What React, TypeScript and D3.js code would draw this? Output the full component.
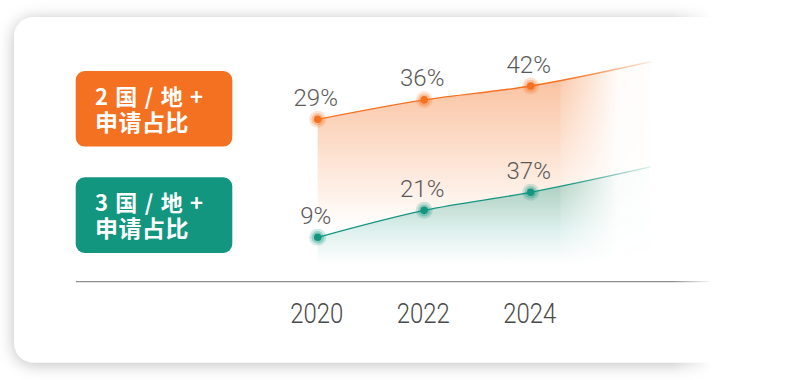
import React from 'react';
import * as d3 from 'd3';

// ---- data ----
const years = [2020, 2022, 2024];
const yearLabels = ['2020', '2022', '2024'];
const trendYear = 2026.25;
const twoCountryShare = [29, 36, 42];
const threeCountryShare = [9, 21, 37];
const twoCountryTrend = 55;
const threeCountryTrend = 82;
const seriesTitles = ['2 国 / 地 +', '3 国 / 地 +'];
const seriesSubtitle = '申请占比';
const seriesColors = ['#f47121', '#129680'];

const W = 794;
const H = 380;

type Series = {
  key: string;
  title: string;
  values: number[];
  trend: number;
  color: string;
  yRange: [number, number];
  areaTop: number;
  areaBottom: number;
  topOpacity: number;
  boxY: number;
};

const series: Series[] = [
  {
    key: 'two',
    title: seriesTitles[0],
    values: twoCountryShare,
    trend: twoCountryTrend,
    color: seriesColors[0],
    yRange: [119.3, 86],
    areaTop: 70,
    areaBottom: 228,
    topOpacity: 0.45,
    boxY: 71,
  },
  {
    key: 'three',
    title: seriesTitles[1],
    values: threeCountryShare,
    trend: threeCountryTrend,
    color: seriesColors[1],
    yRange: [237.3, 192.3],
    areaTop: 175,
    areaBottom: 264,
    topOpacity: 0.38,
    boxY: 177.3,
  },
];

export default function App() {
  const x = d3.scaleLinear().domain([2020, 2024]).range([317.7, 530.7]);
  const axisY = 281.7;

  return (
    <svg
      width={W}
      height={H}
      style={{ position: 'absolute', left: 0, top: 0, background: '#ffffff' }}
    >
      <defs>
        <filter id="cardShadow" x="-10%" y="-20%" width="120%" height="140%">
          <feDropShadow dx="0" dy="2" stdDeviation="8" floodColor="#000" floodOpacity="0.26" />
        </filter>
        <linearGradient id="rightFade" gradientUnits="userSpaceOnUse" x1="672" x2="712" y1="0" y2="0">
          <stop offset="0" stopColor="#fff" stopOpacity="0" />
          <stop offset="1" stopColor="#fff" stopOpacity="1" />
        </linearGradient>
        <linearGradient id="hMaskGrad" gradientUnits="userSpaceOnUse" x1="300" x2="660" y1="0" y2="0">
          <stop offset={(560 - 300) / 360} stopColor="#fff" stopOpacity="1" />
          <stop offset={(561 - 300) / 360} stopColor="#fff" stopOpacity="0.85" />
          <stop offset={(618 - 300) / 360} stopColor="#fff" stopOpacity="0.06" />
          <stop offset="1" stopColor="#fff" stopOpacity="0.02" />
        </linearGradient>
        <mask id="hMask" maskUnits="userSpaceOnUse" x="0" y="0" width={W} height={H}>
          <rect x="0" y="0" width={W} height={H} fill="url(#hMaskGrad)" />
        </mask>
        {series.map((s) => (
          <React.Fragment key={s.key}>
            <linearGradient
              id={`area-${s.key}`}
              gradientUnits="userSpaceOnUse"
              x1="0"
              x2="0"
              y1={s.areaTop}
              y2={s.areaBottom}
            >
              <stop offset="0" stopColor={s.color} stopOpacity={s.topOpacity} />
              <stop offset="0.45" stopColor={s.color} stopOpacity={s.topOpacity * 0.55} />
              <stop offset="1" stopColor={s.color} stopOpacity="0" />
            </linearGradient>
            <linearGradient
              id={`line-${s.key}`}
              gradientUnits="userSpaceOnUse"
              x1="300"
              x2="652"
              y1="0"
              y2="0"
            >
              <stop offset={(565 - 300) / 352} stopColor={s.color} stopOpacity="1" />
              <stop offset="1" stopColor={s.color} stopOpacity="0.12" />
            </linearGradient>
          </React.Fragment>
        ))}
      </defs>

      {/* card */}
      <rect x={14} y={17} width={760} height={345.5} rx={20} fill="#fff" filter="url(#cardShadow)" />

      {/* areas */}
      <g mask="url(#hMask)">
        {series.map((s) => {
          const y = d3.scaleLog().domain([d3.min(s.values)!, d3.max(s.values)!]).range(s.yRange);
          const pts: [number, number][] = years.map((yr, i) => [x(yr), y(s.values[i])]);
          pts.push([x(trendYear), y(s.trend)]);
          const area = d3
            .area<[number, number]>()
            .x((d) => d[0])
            .y0(s.areaBottom)
            .y1((d) => d[1])
            .curve(d3.curveMonotoneX);
          return <path key={s.key} d={area(pts) || ''} fill={`url(#area-${s.key})`} />;
        })}
      </g>

      {/* lines, markers, labels */}
      {series.map((s) => {
        const y = d3.scaleLog().domain([d3.min(s.values)!, d3.max(s.values)!]).range(s.yRange);
        const pts: [number, number][] = years.map((yr, i) => [x(yr), y(s.values[i])]);
        pts.push([x(trendYear), y(s.trend)]);
        const line = d3
          .line<[number, number]>()
          .x((d) => d[0])
          .y((d) => d[1])
          .curve(d3.curveMonotoneX);
        return (
          <g key={s.key}>
            <path d={line(pts) || ''} fill="none" stroke={`url(#line-${s.key})`} strokeWidth={1.3} />
            {years.map((yr, i) => {
              const cx = x(yr);
              const cy = y(s.values[i]);
              return (
                <g key={yr}>
                  <circle cx={cx} cy={cy} r={8.5} fill={s.color} opacity={0.2} />
                  <circle cx={cx} cy={cy} r={6.2} fill={s.color} opacity={0.3} />
                  <circle cx={cx} cy={cy} r={3.8} fill={s.color} />
                  <text
                    x={cx - 2}
                    y={cy - 13.5}
                    textAnchor="middle"
                    fontFamily="Roboto, 'Liberation Sans', sans-serif"
                    fontWeight={300}
                    fontSize={24}
                    fill="#595959"
                  >
                    {s.values[i]}%
                  </text>
                </g>
              );
            })}
          </g>
        );
      })}

      {/* label boxes */}
      {series.map((s) => (
        <g key={s.key}>
          <rect x={75.7} y={s.boxY} width={156.6} height={75.6} rx={9} fill={s.color} />
          <text
            x={95}
            y={s.boxY + 33.5}
            fontFamily="'Noto Sans CJK SC', sans-serif"
            fontWeight={700}
            fontSize={22}
            letterSpacing={1.2}
            fill="#fff"
            style={{ whiteSpace: 'pre' }}
          >
            {s.title}
          </text>
          <text
            x={95}
            y={s.boxY + 60}
            fontFamily="'Noto Sans CJK SC', sans-serif"
            fontWeight={700}
            fontSize={23}
            letterSpacing={0.5}
            fill="#fff"
          >
            {seriesSubtitle}
          </text>
        </g>
      ))}

      {/* axis */}
      <line x1={76} x2={710} y1={axisY} y2={axisY} stroke="#8e8e8e" strokeWidth={1.2} />
      {years.map((yr, i) => (
        <text
          key={yr}
          x={x(yr) - 1}
          y={323}
          textAnchor="middle"
          fontFamily="Roboto, 'Liberation Sans', sans-serif"
          fontWeight={300}
          fontSize={28}
          fill="#4a4a4a"
          textLength={53}
          lengthAdjust="spacingAndGlyphs"
        >
          {yearLabels[i]}
        </text>
      ))}

      {/* right fade */}
      <rect x={672} y={0} width={W - 672} height={H} fill="url(#rightFade)" />
    </svg>
  );
}
